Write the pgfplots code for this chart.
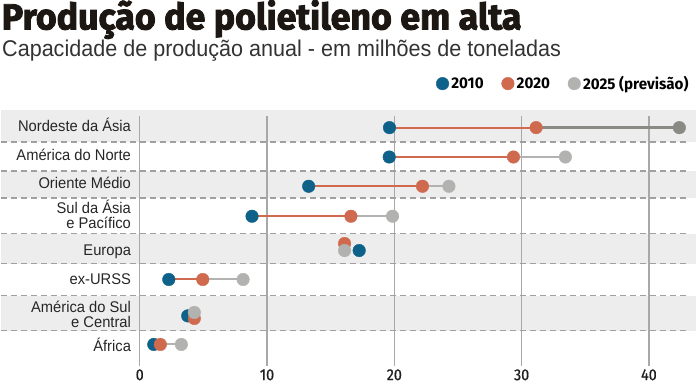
\documentclass[border=0pt]{standalone}
\usepackage{pgfplots}
\pgfplotsset{compat=1.18}
\usepackage{pgfplotstable}
\usepackage{fontspec}
\setmainfont[FakeStretch=0.95]{Liberation Sans}
\newfontfamily\titlefont[FakeStretch=0.985, BoldFeatures={FakeBold=2.5}]{Fira Sans}
\newfontfamily\subfont[FakeStretch=0.947]{Liberation Sans}
\newfontfamily\legfont[FakeStretch=0.98]{Fira Sans}
\newfontfamily\tickfont[FakeStretch=0.9, FakeBold=0.6]{Fira Sans}
\definecolor{cA}{HTML}{0E6189}
\definecolor{cB}{HTML}{D06A4E}
\definecolor{cC}{HTML}{B2B2B0}
\definecolor{cD}{HTML}{8A8A84}
\definecolor{band}{HTML}{EDEDED}
\definecolor{gridc}{HTML}{A8A8A8}
\definecolor{dashc}{HTML}{A0A0A0}
\definecolor{titlec}{HTML}{1C1712}

% x: capacity (millions of tonnes); y: vertical position of each row
\pgfplotstableread{
xa    ya     xb    yb     xc    yc
19.62 127.3  31.14 127.3  42.39 127.3
19.60 156.7  29.36 156.7  33.44 156.7
13.27 186.0  22.21 186.0  24.29 186.0
8.82  216.0  16.59 216.0  19.86 216.0
17.24 250.3  16.09 243.3  16.09 250.3
2.28  279.3  4.95  279.3  8.12  279.3
3.77  315.7  4.29  318.3  4.29  312.3
1.10  344.3  1.62  344.3  3.27  344.3
}\capdata

\begin{document}
\begin{tikzpicture}[x=1pt,y=1pt]
\begin{axis}[
  scale only axis, width=696pt, height=250pt,
  xmin=-10.93, xmax=43.70, ymin=116, ymax=366, y dir=reverse,
  axis line style={draw=none}, ytick=\empty,
  xtick={0,10,20,30,40}, major tick length=0pt,
  xmajorgrids, grid style={gridc, line width=1.3pt},
  xticklabel style={font=\tickfont\fontsize{16}{16}\selectfont, text=black!88, inner sep=3pt},
  /pgf/number format/assume math mode=true,
  clip=false, set layers,
  legend columns=3,
  legend style={at={(axis description cs:0.993,1.131)}, anchor=east, draw=none, fill=none,
    font=\legfont\bfseries\fontsize{15.5}{15.5}\selectfont, inner sep=0pt,
    /tikz/every even column/.append style={column sep=15.5pt},
    nodes={inner xsep=2.5pt, inner ysep=0pt}},
  legend cell align=left,
  legend image code/.code={\draw[#1] plot coordinates {(0pt,0pt)};},
]
\begin{pgfonlayer}{axis background}
\fill[band] (axis cs:-10.93,110) rectangle (axis cs:43.70,141.7);
\fill[band] (axis cs:-10.93,170.7) rectangle (axis cs:43.70,197.7);
\fill[band] (axis cs:-10.93,233.3) rectangle (axis cs:43.70,263.3);
\fill[band] (axis cs:-10.93,295.7) rectangle (axis cs:43.70,330.7);
\end{pgfonlayer}
\draw[dashc, line width=1.2pt, dash pattern=on 6pt off 4pt] (axis cs:-10.93,141.7) -- (axis cs:42.99,141.7);
\draw[dashc, line width=1.2pt, dash pattern=on 6pt off 4pt] (axis cs:-10.93,170.7) -- (axis cs:42.99,170.7);
\draw[dashc, line width=1.2pt, dash pattern=on 6pt off 4pt] (axis cs:-10.93,197.7) -- (axis cs:42.99,197.7);
\draw[dashc, line width=1.2pt, dash pattern=on 6pt off 4pt] (axis cs:-10.93,233.3) -- (axis cs:42.99,233.3);
\draw[dashc, line width=1.2pt, dash pattern=on 6pt off 4pt] (axis cs:-10.93,263.3) -- (axis cs:42.99,263.3);
\draw[dashc, line width=1.2pt, dash pattern=on 6pt off 4pt] (axis cs:-10.93,295.7) -- (axis cs:42.99,295.7);
\draw[dashc, line width=1.2pt, dash pattern=on 6pt off 4pt] (axis cs:-10.93,330.7) -- (axis cs:42.99,330.7);
% 2010 -> 2020 segments
\addplot[cB, line width=2pt, forget plot] coordinates {(19.62,127.3) (31.14,127.3)};
\addplot[cB, line width=2pt, forget plot] coordinates {(19.60,156.7) (29.36,156.7)};
\addplot[cB, line width=2pt, forget plot] coordinates {(13.27,186.0) (22.21,186.0)};
\addplot[cB, line width=2pt, forget plot] coordinates {(8.82,216.0) (16.59,216.0)};
\addplot[cB, line width=2pt, forget plot] coordinates {(2.28,279.3) (4.95,279.3)};
\addplot[cB, line width=2pt, forget plot] coordinates {(1.10,344.3) (1.62,344.3)};
% 2020 -> 2025 segments
\addplot[cD, line width=2.6pt, forget plot] coordinates {(31.14,127.3) (42.39,127.3)};
\addplot[cC, line width=2pt, forget plot] coordinates {(29.36,156.7) (33.44,156.7)};
\addplot[cC, line width=2pt, forget plot] coordinates {(22.21,186.0) (24.29,186.0)};
\addplot[cC, line width=2pt, forget plot] coordinates {(16.59,216.0) (19.86,216.0)};
\addplot[cC, line width=2pt, forget plot] coordinates {(4.95,279.3) (8.12,279.3)};
\addplot[cC, line width=2pt, forget plot] coordinates {(1.62,344.3) (3.27,344.3)};
% markers
\addplot[only marks, mark=*, mark size=6.3pt, color=cA, mark options={draw=none}] table[x=xa, y=ya] {\capdata};
\addlegendentry{2010}
\addplot[only marks, mark=*, mark size=6.3pt, color=cB, mark options={draw=none}] table[x=xb, y=yb] {\capdata};
\addlegendentry{2020}
\addplot[only marks, mark=*, mark size=6.3pt, color=cC, mark options={draw=none}, skip coords between index={0}{1}] table[x=xc, y=yc] {\capdata};
\addlegendentry{2025 (previsão)}
\addplot[only marks, mark=*, mark size=6.3pt, color=cD, mark options={draw=none}, forget plot] coordinates {(42.39,127.3)};
% category labels
\begin{scope}[every node/.style={anchor=base east, inner sep=0pt, text=black!85, font=\fontsize{15.5}{15.5}\selectfont}]
\node at (axis cs:-0.675,130.7) {Nordeste da Ásia};
\node at (axis cs:-0.675,159.8) {América do Norte};
\node at (axis cs:-0.675,188.5) {Oriente Médio};
\node at (axis cs:-0.675,213.5) {Sul da Ásia};
\node at (axis cs:-0.675,228.3) {e Pacífico};
\node at (axis cs:-0.675,255.3) {Europa};
\node at (axis cs:-0.675,284.8) {ex-URSS};
\node at (axis cs:-0.675,312.7) {América do Sul};
\node at (axis cs:-0.675,327.3) {e Central};
\node at (axis cs:-0.675,351.0) {África};
\end{scope}
% title and subtitle
\node[anchor=base west, inner sep=0pt, text=titlec, font=\titlefont\bfseries\fontsize{36.3}{36.3}\selectfont] at (axis description cs:0.0015,1.348) {Produção de polietileno em alta};
\node[anchor=base west, inner sep=0pt, text=black!80, font=\subfont\fontsize{22.8}{22.8}\selectfont] at (axis description cs:0.002,1.24) {Capacidade de produção anual - em milhões de toneladas};
\path (axis description cs:0,-0.096) rectangle (axis description cs:1,1.464);
\end{axis}
\end{tikzpicture}
\end{document}
